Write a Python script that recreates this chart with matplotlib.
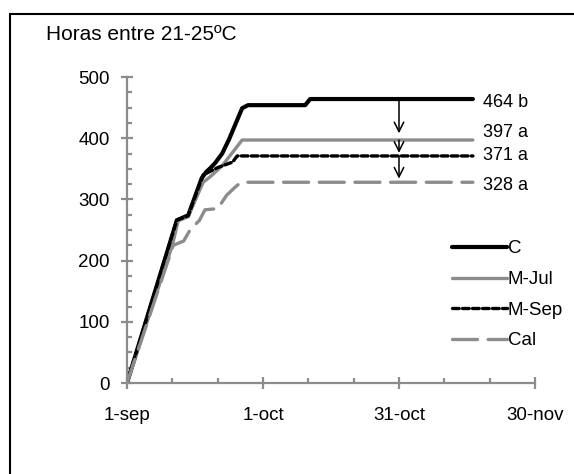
import matplotlib
matplotlib.use('Agg')
import matplotlib.pyplot as plt
from matplotlib.patches import Rectangle
from matplotlib.ticker import MultipleLocator

plt.rcParams['font.family'] = ['Liberation Sans', 'DejaVu Sans']

# dias desde 1-sep, horas acumuladas entre 21-25ºC
c_dias = [0, 11.0, 13.5, 16.5, 17.5, 18.5, 19.5, 21.0, 22.5, 25.4, 26.7, 39.3, 40.4, 76.3]
c_horas = [0, 266, 274, 335, 345, 352, 360, 375, 398, 449, 454, 454, 464, 464]

mjul_dias = [0, 10.0, 11.3, 13.5, 16.8, 18.5, 21.0, 25.4, 76.3]
mjul_horas = [0, 225, 265, 272, 328, 338, 355, 397, 397]

msep_dias = [0, 11.0, 13.5, 16.8, 20.0, 23.3, 24.3, 76.3]
msep_horas = [0, 266, 273, 340, 352, 361, 371, 371]

cal_dias = [0, 10.2, 12.5, 13.9, 16.0, 17.2, 20.0, 22.0, 24.3, 25.3, 76.3]
cal_horas = [0, 225, 232, 250, 266, 283, 285, 307, 323, 328, 328]

finales = [464, 397, 371, 328]
letras = ['b', 'a', 'a', 'a']
desfase = [-6, 13, 0, -6]   # para que las etiquetas no se pisen

xticks = [0, 30, 60, 90]
xlabels = ['1-sep', '1-oct', '31-oct', '30-nov']

gris = '#8c8c8c'
fig = plt.figure(figsize=(5.74, 4.74), dpi=100)
ax = fig.add_axes([127 / 574, 1 - 383 / 474, 408 / 574, 306 / 474])

ax.plot(c_dias, c_horas, color='black', lw=3.0, label='C', solid_capstyle='round')
ax.plot(mjul_dias, mjul_horas, color=gris, lw=2.4, label='M-Jul', solid_capstyle='round')
ax.plot(msep_dias, msep_horas, color='black', lw=2.4, dashes=(2, 1), label='M-Sep',
        dash_capstyle='round')
ax.plot(cal_dias, cal_horas, color=gris, lw=2.4, dashes=(7.5, 3.2), label='Cal',
        dash_capstyle='round')

for v, l, d in zip(finales, letras, desfase):
    ax.text(78.5, v + d, f'{v} {l}', fontsize=13, va='center', ha='left')

# flechas a 31-oct
for y0, y1 in [(464, 408), (397, 376), (371, 334)]:
    ax.annotate('', xy=(60, y1), xytext=(60, y0),
                arrowprops=dict(arrowstyle='->', color='black', lw=1.1,
                                shrinkA=0, shrinkB=0, mutation_scale=17))

ax.set_xlim(0, 90)
ax.set_ylim(0, 500)
ax.set_xticks(xticks)
ax.set_xticklabels(xlabels)
ax.xaxis.set_minor_locator(MultipleLocator(10))
ax.yaxis.set_major_locator(MultipleLocator(100))
ax.yaxis.set_minor_locator(MultipleLocator(25))
for s in ['top', 'right']:
    ax.spines[s].set_visible(False)
for s in ['left', 'bottom']:
    ax.spines[s].set_color(gris)
    ax.spines[s].set_linewidth(1.6)
ax.tick_params(which='major', direction='inout', length=8.5, width=1.6, color=gris,
               labelsize=13.5, pad=4)
ax.tick_params(which='minor', direction='in', length=3.5, width=1.6, color=gris)
ax.tick_params(axis='x', which='major', pad=13)
ax.tick_params(axis='y', which='major', pad=8)

leg = ax.legend(loc='upper left', bbox_to_anchor=(443 / 574, 1 - 231 / 474),
                bbox_transform=fig.transFigure, frameon=False, fontsize=13.5,
                handlelength=2.9, handletextpad=0.05, labelspacing=0.72, borderpad=0)

fig.text(46 / 574, 1 - 34 / 474, 'Horas entre 21-25ºC', fontsize=15, va='center', ha='left')

fig.patches.append(Rectangle((10 / 574, -0.05), 1.0, 1 - 14 / 474 + 0.05,
                             transform=fig.transFigure, fill=False, ec='black', lw=1.5))

plt.savefig('out.png', dpi=100)
